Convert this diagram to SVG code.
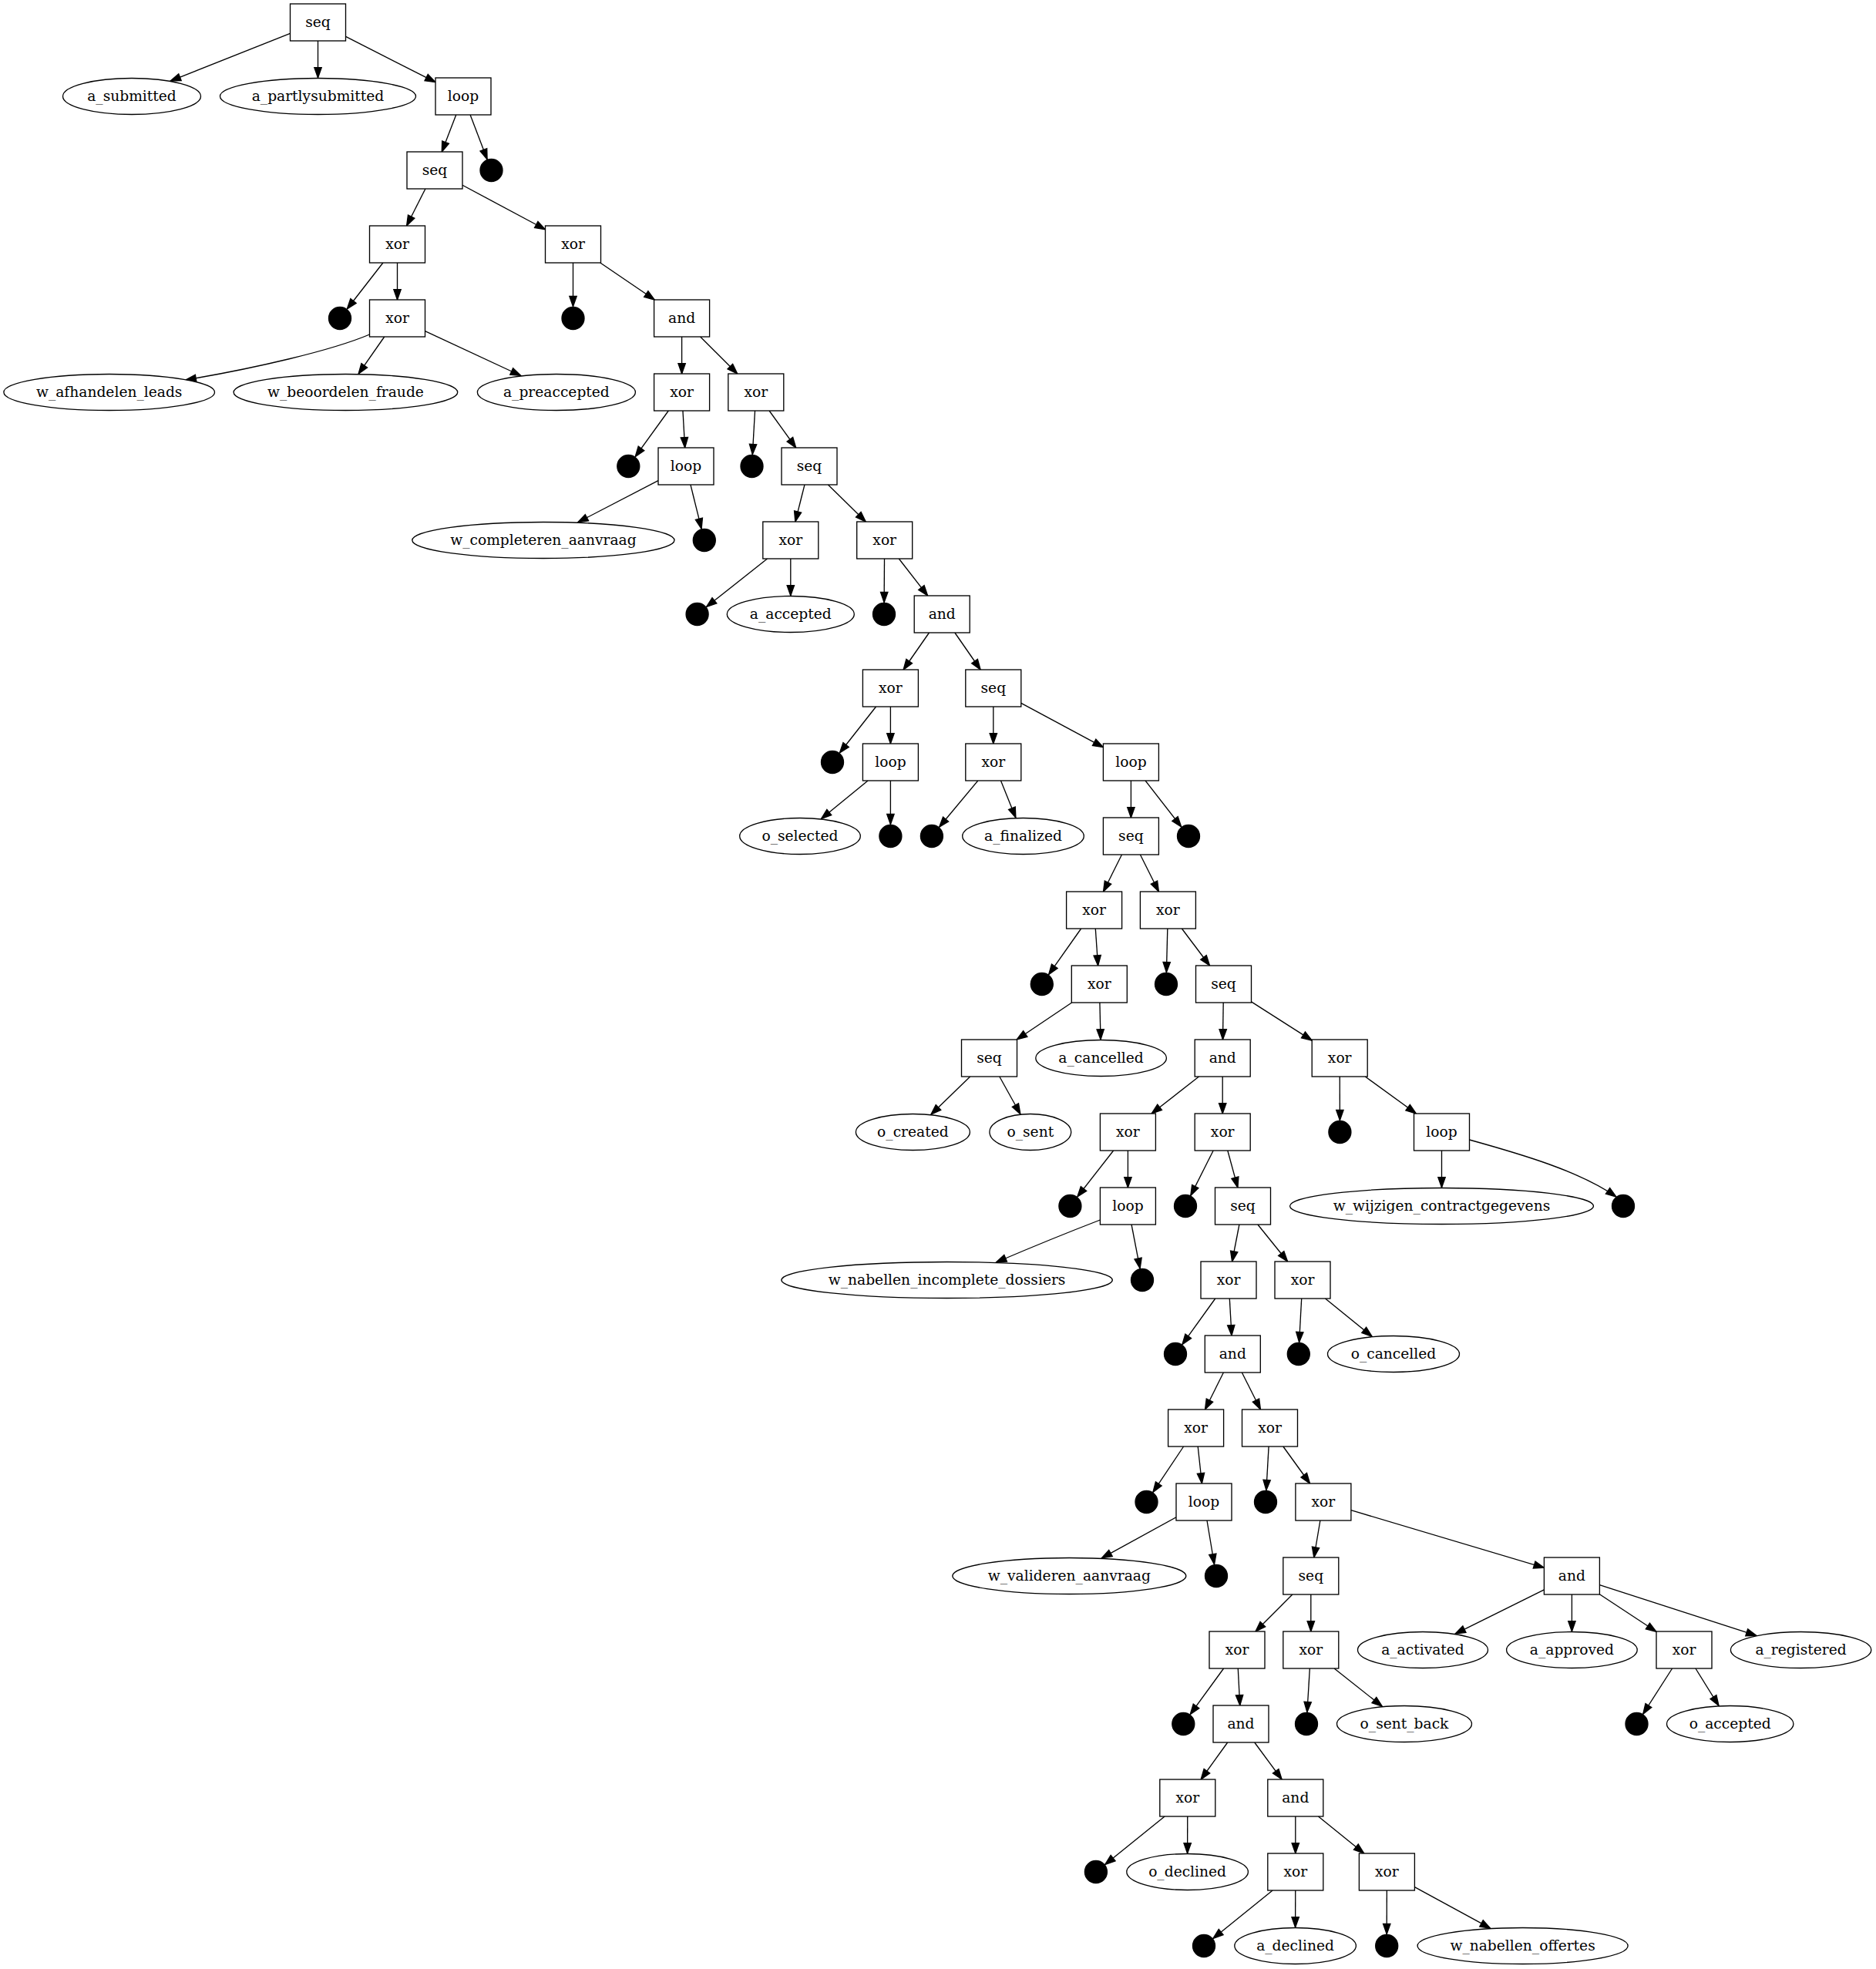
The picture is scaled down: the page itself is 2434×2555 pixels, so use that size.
<svg xmlns="http://www.w3.org/2000/svg" width="2434" height="2555" viewBox="0 0 2434 2555">
<style>
.b{fill:#fff;stroke:#000;stroke-width:1.33}
.e{fill:#fff;stroke:#000;stroke-width:1.33}
.d{fill:#000;stroke:#000;stroke-width:1.33}
text{font-family:"DejaVu Serif","Liberation Serif",serif;font-size:18.67px;text-anchor:middle;fill:#000}
.c path,.c line{fill:none;stroke:#000;stroke-width:1.33;marker-end:url(#ah)}
</style>
<defs>
<marker id="ah" markerUnits="userSpaceOnUse" viewBox="0 0 13.33 9.34" refX="13.33" refY="4.67" markerWidth="13.33" markerHeight="9.34" orient="auto" overflow="visible">
<path d="M0,0 L13.33,4.67 L0,9.34 Z" fill="#000" stroke="#000" stroke-width="1.33"/>
</marker>
</defs>
<rect width="2434" height="2555" fill="#fff"/>
<g id="connectors" class="c">
<line x1="376.5" y1="43.3" x2="221.1" y2="105.1"/>
<line x1="412.5" y1="53" x2="412.5" y2="101"/>
<line x1="448.5" y1="47.3" x2="565" y2="106.7"/>
<line x1="591.75" y1="149" x2="573.25" y2="197"/>
<line x1="610.1" y1="149" x2="632.1" y2="206.8"/>
<line x1="551.9" y1="245" x2="527.6" y2="293"/>
<line x1="600" y1="240.25" x2="707.5" y2="297.75"/>
<line x1="496.9" y1="341" x2="450.3" y2="401"/>
<line x1="515.5" y1="341" x2="515.5" y2="389"/>
<path d="M479.5,434 C430,455 330,478 241,493"/>
<line x1="498.7" y1="437" x2="465.1" y2="485.2"/>
<line x1="551.5" y1="429.7" x2="675.8" y2="487.5"/>
<line x1="743.5" y1="341" x2="743.5" y2="397.8"/>
<line x1="778.8" y1="341" x2="849.3" y2="389"/>
<line x1="884.6" y1="437" x2="884.6" y2="485"/>
<line x1="908.65" y1="437" x2="956.75" y2="485"/>
<line x1="867.3" y1="533" x2="824.2" y2="592.7"/>
<line x1="885.95" y1="533" x2="888.65" y2="581"/>
<line x1="854" y1="623.7" x2="749.6" y2="677.8"/>
<line x1="895.95" y1="629" x2="910.1" y2="686.2"/>
<line x1="979.5" y1="533" x2="976.3" y2="589.8"/>
<line x1="998.1" y1="533" x2="1032.7" y2="581"/>
<line x1="1043.95" y1="629" x2="1031.85" y2="677"/>
<line x1="1074.4" y1="629" x2="1123.3" y2="677"/>
<line x1="995.5" y1="725" x2="916.5" y2="787.6"/>
<line x1="1025.8" y1="725" x2="1025.8" y2="773"/>
<line x1="1147.5" y1="725" x2="1147.1" y2="781.8"/>
<line x1="1166.3" y1="725" x2="1203.6" y2="773"/>
<line x1="1205.5" y1="821" x2="1172.1" y2="869"/>
<line x1="1238.85" y1="821" x2="1272.15" y2="869"/>
<line x1="1136.55" y1="917" x2="1089.4" y2="977"/>
<line x1="1155.4" y1="917" x2="1155.4" y2="965"/>
<line x1="1126.05" y1="1013" x2="1065.5" y2="1062.5"/>
<line x1="1155.4" y1="1013" x2="1155.4" y2="1069.8"/>
<line x1="1288.8" y1="917" x2="1288.8" y2="965"/>
<line x1="1324.8" y1="912.35" x2="1431.4" y2="969.65"/>
<line x1="1268.8" y1="1013" x2="1218.6" y2="1073.3"/>
<line x1="1298.5" y1="1013" x2="1317.9" y2="1061.2"/>
<line x1="1467.4" y1="1013" x2="1467.4" y2="1061"/>
<line x1="1486.05" y1="1013" x2="1532.7" y2="1073"/>
<line x1="1455.45" y1="1109" x2="1431.55" y2="1157"/>
<line x1="1479.4" y1="1109" x2="1503.4" y2="1157"/>
<line x1="1402.65" y1="1205" x2="1360.6" y2="1264.6"/>
<line x1="1421.3" y1="1205" x2="1424.6" y2="1253"/>
<line x1="1390.6" y1="1301" x2="1319.2" y2="1349"/>
<line x1="1426.9" y1="1301" x2="1428" y2="1349"/>
<line x1="1258.7" y1="1397" x2="1207.9" y2="1446.2"/>
<line x1="1296.8" y1="1397" x2="1323.9" y2="1445.7"/>
<line x1="1514.8" y1="1205" x2="1513.4" y2="1261.8"/>
<line x1="1533.4" y1="1205" x2="1569.5" y2="1253"/>
<line x1="1587.2" y1="1301" x2="1586.5" y2="1349"/>
<line x1="1623.5" y1="1299.9" x2="1702.2" y2="1350.1"/>
<line x1="1555.5" y1="1397" x2="1494.1" y2="1445"/>
<line x1="1586.2" y1="1397" x2="1586.2" y2="1445"/>
<line x1="1444.65" y1="1493" x2="1397.8" y2="1553"/>
<line x1="1463.4" y1="1493" x2="1463.4" y2="1541"/>
<path d="M1427.4,1583 Q1365,1607 1292.4,1638"/>
<line x1="1468.05" y1="1589" x2="1479.1" y2="1646.1"/>
<line x1="1574.15" y1="1493" x2="1544.8" y2="1551.4"/>
<line x1="1592.8" y1="1493" x2="1605.9" y2="1541"/>
<line x1="1607.9" y1="1589" x2="1598.6" y2="1637"/>
<line x1="1631.9" y1="1589" x2="1670.6" y2="1637"/>
<line x1="1576.75" y1="1685" x2="1533.9" y2="1744.7"/>
<line x1="1595.3" y1="1685" x2="1598" y2="1733"/>
<line x1="1587.4" y1="1781" x2="1563.5" y2="1829"/>
<line x1="1611.35" y1="1781" x2="1635.45" y2="1829"/>
<line x1="1535.6" y1="1877" x2="1495.9" y2="1936.4"/>
<line x1="1554.2" y1="1877" x2="1559.4" y2="1925"/>
<line x1="1526" y1="1968.8" x2="1429.3" y2="2021.9"/>
<line x1="1566" y1="1973" x2="1575.5" y2="2030"/>
<line x1="1646.1" y1="1877" x2="1642.9" y2="1933.8"/>
<line x1="1664.85" y1="1877" x2="1699.55" y2="1925"/>
<line x1="1712.9" y1="1973" x2="1704.8" y2="2021"/>
<line x1="1752.9" y1="1959.7" x2="2003.4" y2="2034.3"/>
<line x1="1676.85" y1="2069" x2="1628.95" y2="2117"/>
<line x1="1700.8" y1="2069" x2="1700.8" y2="2117"/>
<line x1="1587.6" y1="2165" x2="1544.2" y2="2224.7"/>
<line x1="1606.25" y1="2165" x2="1608.75" y2="2213"/>
<line x1="1592.7" y1="2261" x2="1558.1" y2="2309"/>
<line x1="1627.7" y1="2261" x2="1663.1" y2="2309"/>
<line x1="1511.1" y1="2357" x2="1433.7" y2="2419.5"/>
<line x1="1540.75" y1="2357" x2="1540.6" y2="2405"/>
<line x1="1680.8" y1="2357" x2="1680.8" y2="2405"/>
<line x1="1710.45" y1="2357" x2="1769.75" y2="2405"/>
<line x1="1651.1" y1="2453" x2="1573.8" y2="2515.4"/>
<line x1="1680.75" y1="2453" x2="1680.6" y2="2501"/>
<line x1="1799.35" y1="2453" x2="1799.2" y2="2509.8"/>
<line x1="1835.4" y1="2448.6" x2="1933.7" y2="2502.2"/>
<line x1="1699.35" y1="2165" x2="1695.9" y2="2221.8"/>
<line x1="1731.1" y1="2165" x2="1793.35" y2="2214.3"/>
<line x1="2003.4" y1="2062.9" x2="1888" y2="2120.1"/>
<line x1="2039.4" y1="2069" x2="2039.4" y2="2117"/>
<line x1="2075.4" y1="2068.7" x2="2149" y2="2117.3"/>
<line x1="2075.4" y1="2056.6" x2="2278.9" y2="2122.4"/>
<line x1="2169.6" y1="2165" x2="2131.7" y2="2224.2"/>
<line x1="2199.9" y1="2165" x2="2230" y2="2213.4"/>
<line x1="1688.7" y1="1685" x2="1685.6" y2="1741.8"/>
<line x1="1719.5" y1="1685" x2="1780.1" y2="1734.3"/>
<line x1="1738.25" y1="1397" x2="1738.4" y2="1453.8"/>
<line x1="1771.3" y1="1397" x2="1837.4" y2="1445"/>
<line x1="1870.5" y1="1493" x2="1870.5" y2="1541"/>
<path d="M1906.5,1479 C1975,1498 2050,1520 2097,1553"/>
</g>
<g id="n0"><rect class="b" x="376.5" y="5" width="72" height="48"/><text x="412.5" y="35">seq</text></g>
<g id="n1"><ellipse class="e" cx="171" cy="125" rx="89.5" ry="23.5"/><text x="171" y="131">a_submitted</text></g>
<g id="n2"><ellipse class="e" cx="412.5" cy="125" rx="127" ry="23.5"/><text x="412.5" y="131">a_partlysubmitted</text></g>
<g id="n3"><rect class="b" x="565" y="101" width="72" height="48"/><text x="601" y="131">loop</text></g>
<g id="n4"><rect class="b" x="528" y="197" width="72" height="48"/><text x="564" y="227">seq</text></g>
<g id="n5"><circle class="d" cx="637.5" cy="221" r="14.5"/></g>
<g id="n6"><rect class="b" x="479.5" y="293" width="72" height="48"/><text x="515.5" y="323">xor</text></g>
<g id="n7"><rect class="b" x="707.5" y="293" width="72" height="48"/><text x="743.5" y="323">xor</text></g>
<g id="n8"><circle class="d" cx="441" cy="413" r="14.5"/></g>
<g id="n9"><rect class="b" x="479.5" y="389" width="72" height="48"/><text x="515.5" y="419">xor</text></g>
<g id="n10"><circle class="d" cx="743.5" cy="413" r="14.5"/></g>
<g id="n11"><rect class="b" x="848.6" y="389" width="72" height="48"/><text x="884.6" y="419">and</text></g>
<g id="n12"><ellipse class="e" cx="141.7" cy="509" rx="136.8" ry="23.5"/><text x="141.7" y="515">w_afhandelen_leads</text></g>
<g id="n13"><ellipse class="e" cx="448.4" cy="509" rx="145.3" ry="23.5"/><text x="448.4" y="515">w_beoordelen_fraude</text></g>
<g id="n14"><ellipse class="e" cx="721.9" cy="509" rx="102.5" ry="23.5"/><text x="721.9" y="515">a_preaccepted</text></g>
<g id="n15"><rect class="b" x="848.6" y="485" width="72" height="48"/><text x="884.6" y="515">xor</text></g>
<g id="n16"><rect class="b" x="944.8" y="485" width="72" height="48"/><text x="980.8" y="515">xor</text></g>
<g id="n17"><circle class="d" cx="815.3" cy="605" r="14.5"/></g>
<g id="n18"><rect class="b" x="854" y="581" width="72" height="48"/><text x="890" y="611">loop</text></g>
<g id="n19"><circle class="d" cx="975.5" cy="605" r="14.5"/></g>
<g id="n20"><rect class="b" x="1014" y="581" width="72" height="48"/><text x="1050" y="611">seq</text></g>
<g id="n21"><ellipse class="e" cx="704.9" cy="701" rx="170.1" ry="23.5"/><text x="704.9" y="707">w_completeren_aanvraag</text></g>
<g id="n22"><circle class="d" cx="913.8" cy="701" r="14.5"/></g>
<g id="n23"><rect class="b" x="989.8" y="677" width="72" height="48"/><text x="1025.8" y="707">xor</text></g>
<g id="n24"><rect class="b" x="1111.7" y="677" width="72" height="48"/><text x="1147.7" y="707">xor</text></g>
<g id="n25"><circle class="d" cx="904.6" cy="797" r="14.5"/></g>
<g id="n26"><ellipse class="e" cx="1025.8" cy="797" rx="82.5" ry="23.5"/><text x="1025.8" y="803">a_accepted</text></g>
<g id="n27"><circle class="d" cx="1147" cy="797" r="14.5"/></g>
<g id="n28"><rect class="b" x="1186.2" y="773" width="72" height="48"/><text x="1222.2" y="803">and</text></g>
<g id="n29"><rect class="b" x="1119.4" y="869" width="72" height="48"/><text x="1155.4" y="899">xor</text></g>
<g id="n30"><rect class="b" x="1252.8" y="869" width="72" height="48"/><text x="1288.8" y="899">seq</text></g>
<g id="n31"><circle class="d" cx="1080" cy="989" r="14.5"/></g>
<g id="n32"><rect class="b" x="1119.4" y="965" width="72" height="48"/><text x="1155.4" y="995">loop</text></g>
<g id="n33"><rect class="b" x="1252.8" y="965" width="72" height="48"/><text x="1288.8" y="995">xor</text></g>
<g id="n34"><rect class="b" x="1431.4" y="965" width="72" height="48"/><text x="1467.4" y="995">loop</text></g>
<g id="n35"><ellipse class="e" cx="1038" cy="1085" rx="78.3" ry="23.5"/><text x="1038" y="1091">o_selected</text></g>
<g id="n36"><circle class="d" cx="1155.4" cy="1085" r="14.5"/></g>
<g id="n37"><circle class="d" cx="1208.9" cy="1085" r="14.5"/></g>
<g id="n38"><ellipse class="e" cx="1327.5" cy="1085" rx="78.8" ry="23.5"/><text x="1327.5" y="1091">a_finalized</text></g>
<g id="n39"><rect class="b" x="1431.4" y="1061" width="72" height="48"/><text x="1467.4" y="1091">seq</text></g>
<g id="n40"><circle class="d" cx="1542" cy="1085" r="14.5"/></g>
<g id="n41"><rect class="b" x="1383.6" y="1157" width="72" height="48"/><text x="1419.6" y="1187">xor</text></g>
<g id="n42"><rect class="b" x="1479.4" y="1157" width="72" height="48"/><text x="1515.4" y="1187">xor</text></g>
<g id="n43"><circle class="d" cx="1351.8" cy="1277" r="14.5"/></g>
<g id="n44"><rect class="b" x="1390.3" y="1253" width="72" height="48"/><text x="1426.3" y="1283">xor</text></g>
<g id="n45"><circle class="d" cx="1513" cy="1277" r="14.5"/></g>
<g id="n46"><rect class="b" x="1551.5" y="1253" width="72" height="48"/><text x="1587.5" y="1283">seq</text></g>
<g id="n47"><rect class="b" x="1247.5" y="1349" width="72" height="48"/><text x="1283.5" y="1379">seq</text></g>
<g id="n48"><ellipse class="e" cx="1428.6" cy="1373" rx="84.8" ry="23.5"/><text x="1428.6" y="1379">a_cancelled</text></g>
<g id="n49"><rect class="b" x="1550.2" y="1349" width="72" height="48"/><text x="1586.2" y="1379">and</text></g>
<g id="n50"><rect class="b" x="1702.2" y="1349" width="72" height="48"/><text x="1738.2" y="1379">xor</text></g>
<g id="n51"><ellipse class="e" cx="1184.4" cy="1469" rx="74" ry="23.5"/><text x="1184.4" y="1475">o_created</text></g>
<g id="n52"><ellipse class="e" cx="1336.8" cy="1469" rx="52.9" ry="23.5"/><text x="1336.8" y="1475">o_sent</text></g>
<g id="n53"><rect class="b" x="1427.4" y="1445" width="72" height="48"/><text x="1463.4" y="1475">xor</text></g>
<g id="n54"><rect class="b" x="1550.2" y="1445" width="72" height="48"/><text x="1586.2" y="1475">xor</text></g>
<g id="n55"><circle class="d" cx="1738.4" cy="1469" r="14.5"/></g>
<g id="n56"><rect class="b" x="1834.5" y="1445" width="72" height="48"/><text x="1870.5" y="1475">loop</text></g>
<g id="n57"><circle class="d" cx="1388.4" cy="1565" r="14.5"/></g>
<g id="n58"><rect class="b" x="1427.4" y="1541" width="72" height="48"/><text x="1463.4" y="1571">loop</text></g>
<g id="n59"><circle class="d" cx="1538" cy="1565" r="14.5"/></g>
<g id="n60"><rect class="b" x="1576.5" y="1541" width="72" height="48"/><text x="1612.5" y="1571">seq</text></g>
<g id="n61"><ellipse class="e" cx="1870.5" cy="1565" rx="197" ry="23.5"/><text x="1870.5" y="1571">w_wijzigen_contractgegevens</text></g>
<g id="n62"><circle class="d" cx="2106" cy="1565" r="14.5"/></g>
<g id="n63"><ellipse class="e" cx="1228.6" cy="1661" rx="214.7" ry="23.5"/><text x="1228.6" y="1667">w_nabellen_incomplete_dossiers</text></g>
<g id="n64"><circle class="d" cx="1482" cy="1661" r="14.5"/></g>
<g id="n65"><rect class="b" x="1558" y="1637" width="72" height="48"/><text x="1594" y="1667">xor</text></g>
<g id="n66"><rect class="b" x="1654" y="1637" width="72" height="48"/><text x="1690" y="1667">xor</text></g>
<g id="n67"><circle class="d" cx="1525" cy="1757" r="14.5"/></g>
<g id="n68"><rect class="b" x="1563.3" y="1733" width="72" height="48"/><text x="1599.3" y="1763">and</text></g>
<g id="n69"><circle class="d" cx="1684.8" cy="1757" r="14.5"/></g>
<g id="n70"><ellipse class="e" cx="1808" cy="1757" rx="85.5" ry="23.5"/><text x="1808" y="1763">o_cancelled</text></g>
<g id="n71"><rect class="b" x="1515.6" y="1829" width="72" height="48"/><text x="1551.6" y="1859">xor</text></g>
<g id="n72"><rect class="b" x="1611.5" y="1829" width="72" height="48"/><text x="1647.5" y="1859">xor</text></g>
<g id="n73"><circle class="d" cx="1487.5" cy="1949" r="14.5"/></g>
<g id="n74"><rect class="b" x="1526" y="1925" width="72" height="48"/><text x="1562" y="1955">loop</text></g>
<g id="n75"><circle class="d" cx="1642" cy="1949" r="14.5"/></g>
<g id="n76"><rect class="b" x="1680.9" y="1925" width="72" height="48"/><text x="1716.9" y="1955">xor</text></g>
<g id="n77"><ellipse class="e" cx="1387.3" cy="2045" rx="151.5" ry="23.5"/><text x="1387.3" y="2051">w_valideren_aanvraag</text></g>
<g id="n78"><circle class="d" cx="1578" cy="2045" r="14.5"/></g>
<g id="n79"><rect class="b" x="1664.8" y="2021" width="72" height="48"/><text x="1700.8" y="2051">seq</text></g>
<g id="n80"><rect class="b" x="2003.4" y="2021" width="72" height="48"/><text x="2039.4" y="2051">and</text></g>
<g id="n81"><rect class="b" x="1569" y="2117" width="72" height="48"/><text x="1605" y="2147">xor</text></g>
<g id="n82"><rect class="b" x="1664.8" y="2117" width="72" height="48"/><text x="1700.8" y="2147">xor</text></g>
<g id="n83"><ellipse class="e" cx="1846" cy="2141" rx="84.5" ry="23.5"/><text x="1846" y="2147">a_activated</text></g>
<g id="n84"><ellipse class="e" cx="2039.4" cy="2141" rx="84.8" ry="23.5"/><text x="2039.4" y="2147">a_approved</text></g>
<g id="n85"><rect class="b" x="2149" y="2117" width="72" height="48"/><text x="2185" y="2147">xor</text></g>
<g id="n86"><ellipse class="e" cx="2336.6" cy="2141" rx="91.2" ry="23.5"/><text x="2336.6" y="2147">a_registered</text></g>
<g id="n87"><circle class="d" cx="1535.3" cy="2237" r="14.5"/></g>
<g id="n88"><rect class="b" x="1574" y="2213" width="72" height="48"/><text x="1610" y="2243">and</text></g>
<g id="n89"><circle class="d" cx="1695" cy="2237" r="14.5"/></g>
<g id="n90"><ellipse class="e" cx="1822" cy="2237" rx="87.5" ry="23.5"/><text x="1822" y="2243">o_sent_back</text></g>
<g id="n91"><circle class="d" cx="2123.5" cy="2237" r="14.5"/></g>
<g id="n92"><ellipse class="e" cx="2244.7" cy="2237" rx="82.2" ry="23.5"/><text x="2244.7" y="2243">o_accepted</text></g>
<g id="n93"><rect class="b" x="1504.8" y="2309" width="72" height="48"/><text x="1540.8" y="2339">xor</text></g>
<g id="n94"><rect class="b" x="1644.8" y="2309" width="72" height="48"/><text x="1680.8" y="2339">and</text></g>
<g id="n95"><circle class="d" cx="1421.9" cy="2429" r="14.5"/></g>
<g id="n96"><ellipse class="e" cx="1540.6" cy="2429" rx="78.8" ry="23.5"/><text x="1540.6" y="2435">o_declined</text></g>
<g id="n97"><rect class="b" x="1644.8" y="2405" width="72" height="48"/><text x="1680.8" y="2435">xor</text></g>
<g id="n98"><rect class="b" x="1763.4" y="2405" width="72" height="48"/><text x="1799.4" y="2435">xor</text></g>
<g id="n99"><circle class="d" cx="1562" cy="2525" r="14.5"/></g>
<g id="n100"><ellipse class="e" cx="1680.6" cy="2525" rx="78.8" ry="23.5"/><text x="1680.6" y="2531">a_declined</text></g>
<g id="n101"><circle class="d" cx="1799.2" cy="2525" r="14.5"/></g>
<g id="n102"><ellipse class="e" cx="1975.6" cy="2525" rx="136.5" ry="23.5"/><text x="1975.6" y="2531">w_nabellen_offertes</text></g>
</svg>
